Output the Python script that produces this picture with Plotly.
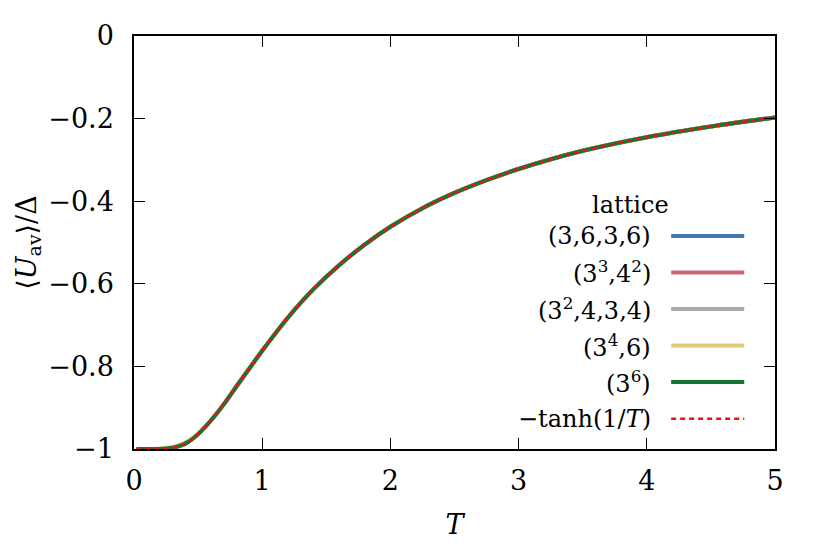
import plotly.graph_objects as go

# temperature grid and values
T = [0.02, 0.1, 0.2, 0.3, 0.35, 0.4, 0.45, 0.5, 0.6, 0.7, 0.8, 0.9, 1.0, 1.2, 1.4,
     1.6, 1.8, 2.0, 2.25, 2.5, 2.75, 3.0, 3.5, 4.0, 4.5, 5.0]
U_tanh = [-1.0, -1.0, -1.0, -0.997, -0.993, -0.987, -0.977, -0.964, -0.931, -0.892,
          -0.848, -0.805, -0.762, -0.682, -0.613, -0.555, -0.505, -0.462, -0.417,
          -0.380, -0.349, -0.322, -0.278, -0.245, -0.219, -0.197]

lattices = ["(3,6,3,6)", "(3<sup>3</sup>,4<sup>2</sup>)", "(3<sup>2</sup>,4,3,4)",
            "(3<sup>4</sup>,6)", "(3<sup>6</sup>)"]
colors = ["#4477AA", "#CC6677", "#AAAAAA", "#DDCC77", "#117733"]
U_lat = {
    "(3,6,3,6)":  [-1.0, -1.0, -1.0, -0.997, -0.993, -0.987, -0.977, -0.964, -0.931, -0.892,
                   -0.848, -0.805, -0.762, -0.682, -0.613, -0.555, -0.505, -0.462, -0.417,
                   -0.380, -0.349, -0.322, -0.278, -0.245, -0.219, -0.197],
    "(3<sup>3</sup>,4<sup>2</sup>)": [-1.0, -1.0, -1.0, -0.997, -0.993, -0.987, -0.977, -0.964, -0.931, -0.892,
                   -0.848, -0.805, -0.762, -0.682, -0.613, -0.555, -0.505, -0.462, -0.417,
                   -0.380, -0.349, -0.322, -0.278, -0.245, -0.219, -0.197],
    "(3<sup>2</sup>,4,3,4)": [-1.0, -1.0, -1.0, -0.997, -0.993, -0.987, -0.977, -0.964, -0.931, -0.892,
                   -0.848, -0.805, -0.762, -0.682, -0.613, -0.555, -0.505, -0.462, -0.417,
                   -0.380, -0.349, -0.322, -0.278, -0.245, -0.219, -0.197],
    "(3<sup>4</sup>,6)": [-1.0, -1.0, -0.999, -0.995, -0.990, -0.984, -0.975, -0.963, -0.931, -0.892,
                   -0.848, -0.805, -0.762, -0.682, -0.613, -0.555, -0.505, -0.462, -0.417,
                   -0.380, -0.349, -0.322, -0.278, -0.245, -0.219, -0.197],
    "(3<sup>6</sup>)": [-1.0, -1.0, -1.0, -0.997, -0.993, -0.987, -0.977, -0.964, -0.931, -0.892,
                   -0.848, -0.805, -0.762, -0.682, -0.613, -0.555, -0.505, -0.462, -0.417,
                   -0.380, -0.349, -0.322, -0.278, -0.245, -0.219, -0.197],
}

y_ticks = [0, -0.2, -0.4, -0.6, -0.8, -1]
y_labels = ["0", "−0.2", "−0.4", "−0.6", "−0.8", "−1"]
x_ticks = [0, 1, 2, 3, 4, 5]

FONT = "DejaVu Serif"
FS = 27      # axes
FS_LEG = 24  # legend block
RED = "#ee1111"
DOTS = "5px,4px"

fig = go.Figure()
for name, col in zip(lattices, colors):
    fig.add_trace(go.Scatter(x=T, y=U_lat[name], mode="lines", name=name,
                             line=dict(color=col, width=4, shape="spline"), showlegend=False))
fig.add_trace(go.Scatter(x=T, y=U_tanh, mode="lines", name="−tanh(1/T)",
                         line=dict(color=RED, width=2.5, dash=DOTS, shape="spline"),
                         showlegend=False))

# legend drawn by hand: text on the left, sample line on the right
leg_x = 0.81
y0, dy = 0.516, 0.0885
fig.add_annotation(x=0.775, y=y0 + 0.074, xref="paper", yref="paper", text="lattice",
                   showarrow=False, xanchor="center", yanchor="middle",
                   font=dict(family=FONT, size=FS_LEG, color="black"))
entries = list(zip(lattices, colors, ["solid"] * 5, [4] * 5)) + \
    [("−tanh(1/<i>T</i>)", RED, DOTS, 2.5)]
for i, (name, col, dash, w) in enumerate(entries):
    yy = y0 - i * dy
    fig.add_annotation(x=leg_x, y=yy, xref="paper", yref="paper", text=name,
                       showarrow=False, xanchor="right", yanchor="middle",
                       font=dict(family=FONT, size=FS_LEG, color="black"))
    fig.add_shape(type="line", xref="paper", yref="paper",
                  x0=0.838, x1=0.952, y0=yy, y1=yy,
                  line=dict(color=col, width=w, dash=dash))

axis_common = dict(showline=True, linecolor="black", linewidth=1.5, mirror="ticks",
                   ticks="inside", ticklen=11, tickwidth=1.3, tickcolor="black",
                   showgrid=False, zeroline=False, automargin=False,
                   tickfont=dict(family=FONT, size=FS, color="black"))
fig.update_xaxes(range=[0, 5], tickvals=x_ticks, ticklabelstandoff=7,
                 title=dict(text="<i>T</i>", font=dict(family=FONT, size=FS, color="black"),
                            standoff=22),
                 **axis_common)
fig.update_yaxes(range=[-1, 0], tickvals=y_ticks, ticktext=y_labels, ticklabelstandoff=13,
                 title=dict(text="⟨<i>U</i><sub>av</sub>⟩/Δ",
                            font=dict(family=FONT, size=FS, color="black"), standoff=4),
                 **axis_common)

# the page has an 8px body margin, so the figure is 16px smaller than the window
fig.update_layout(width=806, height=532, plot_bgcolor="white", paper_bgcolor="white",
                  font=dict(family=FONT, color="black"),
                  margin=dict(l=126, r=39, t=28, b=91), showlegend=False)

fig.write_html("out.html")
